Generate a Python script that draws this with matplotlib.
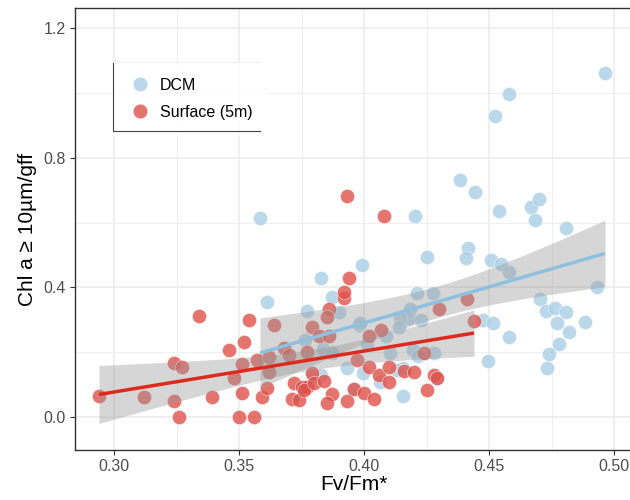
import numpy as np
import matplotlib
matplotlib.use("Agg")
import matplotlib.pyplot as plt
from matplotlib.lines import Line2D

plt.rcParams['font.family'] = ['Liberation Sans', 'DejaVu Sans']

# ---- data ----
dcm_x = [0.4964, 0.458, 0.4524, 0.4384, 0.4444, 0.454, 0.4668, 0.470, 0.4684, 0.4808,
         0.4204, 0.4252, 0.4416, 0.4408, 0.4508, 0.4548, 0.458, 0.3992, 0.3828, 0.3872,
         0.390, 0.3772, 0.3612, 0.4212, 0.4276, 0.4184, 0.418, 0.4144, 0.4228, 0.398,
         0.414, 0.4088, 0.4012, 0.3836, 0.4196, 0.4216, 0.428, 0.4104, 0.3932, 0.3996,
         0.4156, 0.4132, 0.4292, 0.4064, 0.3956, 0.4156, 0.4476, 0.4516, 0.458, 0.4496,
         0.4704, 0.4728, 0.4764, 0.4808, 0.4772, 0.4884, 0.482, 0.478, 0.474, 0.4732,
         0.4932, 0.3796, 0.3764, 0.3756, 0.3828, 0.3584, 0.3872, 0.3984]
dcm_y = [1.062, 0.997, 0.929, 0.731, 0.694, 0.636, 0.648, 0.673, 0.608, 0.583,
         0.620, 0.494, 0.522, 0.491, 0.485, 0.472, 0.448, 0.469, 0.429, 0.370,
         0.324, 0.327, 0.355, 0.383, 0.383, 0.333, 0.306, 0.306, 0.299, 0.284,
         0.278, 0.250, 0.225, 0.210, 0.207, 0.188, 0.198, 0.198, 0.151, 0.136,
         0.151, 0.145, 0.120, 0.108, 0.086, 0.065, 0.299, 0.290, 0.247, 0.173,
         0.364, 0.327, 0.336, 0.324, 0.290, 0.293, 0.262, 0.225, 0.194, 0.151,
         0.401, 0.127, 0.238, 0.090, 0.130, 0.614, 0.198, 0.290]

surf_x = [0.294, 0.312, 0.324, 0.326, 0.324, 0.327, 0.334, 0.339, 0.346, 0.348,
          0.352, 0.354, 0.351, 0.351, 0.350, 0.356, 0.357, 0.359, 0.361, 0.364,
          0.362, 0.362, 0.368, 0.370, 0.372, 0.371, 0.374, 0.375, 0.377, 0.376,
          0.379, 0.377, 0.379, 0.380, 0.382, 0.386, 0.386, 0.385, 0.392, 0.392,
          0.394, 0.393, 0.408, 0.407, 0.402, 0.441, 0.430, 0.444, 0.397, 0.402,
          0.406, 0.410, 0.410, 0.416, 0.420, 0.428, 0.429, 0.425, 0.384, 0.387,
          0.385, 0.393, 0.396, 0.400, 0.404, 0.424]
surf_y = [0.065, 0.062, 0.049, 0.000, 0.167, 0.154, 0.312, 0.062, 0.207, 0.120,
          0.231, 0.299, 0.164, 0.074, 0.000, 0.000, 0.176, 0.062, 0.090, 0.284,
          0.139, 0.185, 0.213, 0.191, 0.105, 0.056, 0.052, 0.093, 0.093, 0.083,
          0.278, 0.201, 0.136, 0.105, 0.250, 0.250, 0.333, 0.309, 0.367, 0.386,
          0.429, 0.682, 0.620, 0.269, 0.250, 0.364, 0.333, 0.296, 0.176, 0.154,
          0.130, 0.154, 0.108, 0.142, 0.139, 0.130, 0.120, 0.083, 0.111, 0.071,
          0.043, 0.049, 0.087, 0.074, 0.056, 0.198]

groups = ["DCM", "Surface (5m)"]
x_ticks = [0.30, 0.35, 0.40, 0.45, 0.50]
y_ticks = [0.0, 0.4, 0.8, 1.2]

pt_colors = ["#a9cfe5", "#e0514a"]
line_colors = ["#8ec0df", "#dc2a1e"]


def lm_ci(x, y, n=80):
    x = np.asarray(x); y = np.asarray(y)
    b, a = np.polyfit(x, y, 1)
    xs = np.linspace(x.min(), x.max(), n)
    yh = a + b * xs
    resid = y - (a + b * x)
    dof = len(x) - 2
    s = np.sqrt(np.sum(resid ** 2) / dof)
    se = s * np.sqrt(1 / len(x) + (xs - x.mean()) ** 2 / np.sum((x - x.mean()) ** 2))
    t = 1.99
    return xs, yh, yh - t * se, yh + t * se


fig = plt.figure(figsize=(6.3, 5.0), dpi=100)
ax = fig.add_axes([75 / 630, 50 / 500, (632 - 75) / 630, 442 / 500])
ax.set_xlim(0.2844, 0.5072)
ax.set_ylim(-0.1019, 1.2623)

# grid
ax.set_xticks(x_ticks)
ax.set_yticks(y_ticks)
ax.set_xticks([0.325, 0.375, 0.425, 0.475], minor=True)
ax.set_yticks([0.2, 0.6, 1.0], minor=True)
ax.grid(True, which='major', color='#ebebeb', linewidth=1.1, zorder=0)
ax.grid(True, which='minor', color='#ebebeb', linewidth=0.55, zorder=0)
ax.set_axisbelow(True)
ax.tick_params(which='minor', length=0)
ax.tick_params(which='major', length=3.5, width=0.8, color='#333333',
               labelsize=11.5, labelcolor='#4d4d4d', pad=3)
ax.set_xticklabels(["0.30", "0.35", "0.40", "0.45", "0.50"])
ax.set_yticklabels(["0.0", "0.4", "0.8", "1.2"])
for sp in ['left', 'bottom', 'top']:
    ax.spines[sp].set_color('#333333')
    ax.spines[sp].set_linewidth(1.0)
ax.spines['right'].set_visible(False)

xs_all = [dcm_x, surf_x]
ys_all = [dcm_y, surf_y]
for i in range(2):
    ax.scatter(xs_all[i], ys_all[i], s=105, color=pt_colors[i], alpha=0.8,
               edgecolors='white', linewidths=0.4, zorder=2)
for i in range(2):
    xs, yh, lo, hi = lm_ci(xs_all[i], ys_all[i])
    ax.fill_between(xs, lo, hi, color='#999999', alpha=0.4, linewidth=0, zorder=3)
for i in range(2):
    xs, yh, lo, hi = lm_ci(xs_all[i], ys_all[i])
    ax.plot(xs, yh, color=line_colors[i], linewidth=2.5, zorder=4, solid_capstyle='butt')

ax.set_xlabel("Fv/Fm*", fontsize=15, color='black', labelpad=1)
ax.set_ylabel("Chl a \u2265 10\u00b5m/gff", fontsize=15, color='black', labelpad=5)

handles = [Line2D([0], [0], marker='o', linestyle='none', markersize=10.5,
                  markerfacecolor=pt_colors[i], markeredgecolor='white',
                  markeredgewidth=0.4, alpha=0.8) for i in range(2)]
leg = ax.legend(handles, groups, loc='upper left',
                bbox_to_anchor=((113 - 75) / 557, (450 - 62) / 442),
                frameon=True, fontsize=11.5, handletextpad=0.55,
                borderpad=1.0, labelspacing=0.75, borderaxespad=0, handlelength=1.4)
leg.get_frame().set_edgecolor('none')
leg.get_frame().set_facecolor('white')
leg.get_frame().set_boxstyle('square', pad=0)
leg.set_zorder(10)

# legend border lines (left and bottom dark, top faint)
fig.add_artist(Line2D([113 / 630, 113 / 630], [1 - 62 / 500, 1 - 131 / 500],
                      color='#444444', linewidth=0.8, zorder=11))
fig.add_artist(Line2D([113 / 630, 260 / 630], [1 - 131 / 500, 1 - 131 / 500],
                      color='#444444', linewidth=0.8, zorder=11))
fig.add_artist(Line2D([113 / 630, 260 / 630], [1 - 62 / 500, 1 - 62 / 500],
                      color='#eeeeee', linewidth=0.8, zorder=11))

fig.savefig("out.png", dpi=100)
